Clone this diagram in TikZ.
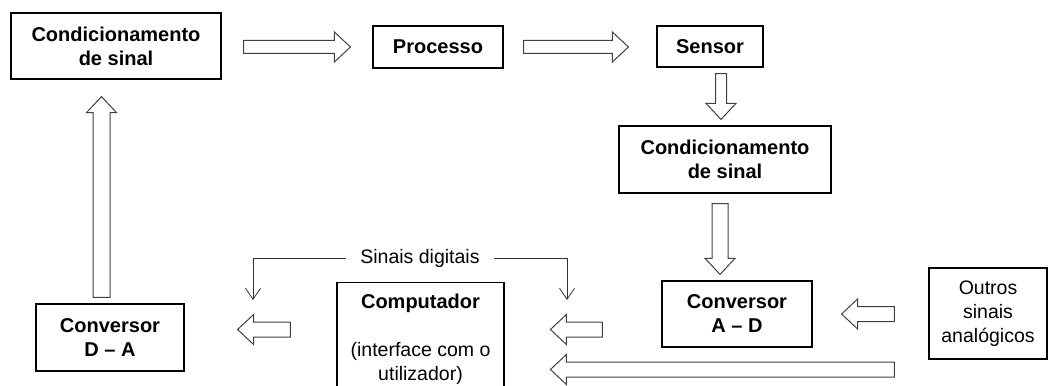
\documentclass[tikz,border=0pt]{standalone}
\usepackage{fontspec}
\setmainfont{Liberation Sans}
\usetikzlibrary{calc,arrows.meta}
\tikzset{
  box/.style={draw=black, line width=1.2pt, align=center, inner sep=0pt,
    font=\bfseries\fontsize{20}{24}\selectfont},
  plain/.style={font=\fontsize{19.5}{24}\selectfont},
  sig/.style={draw=black!80, line width=0.8pt, -{Straight Barb[length=11pt,width=15pt]}},
  fat/.style={draw=black!75, line width=1pt, line join=miter,
    to path={let \p1=(\tikztostart), \p2=(\tikztotarget),
      \n1={atan2(\y2-\y1,\x2-\x1)}, \n2={veclen(\x2-\x1,\y2-\y1)-16} in
      ($(\p1)+(\n1+90:#1)$) -- ($(\p1)+(\n1:{\n2*1pt})+(\n1+90:#1)$)
      -- ($(\p1)+(\n1:{\n2*1pt})+(\n1+90:15pt)$) -- (\p2)
      -- ($(\p1)+(\n1:{\n2*1pt})+(\n1-90:15pt)$)
      -- ($(\p1)+(\n1:{\n2*1pt})+(\n1-90:#1)$) -- ($(\p1)+(\n1-90:#1)$) -- cycle}},
  fat/.default=7.5pt,
}
\begin{document}
\begin{tikzpicture}[x=1pt,y=-1pt]
  \useasboundingbox (0,0) rectangle (1048,385);
  \clip (0,0) rectangle (1048,385);

  % Blocos
  \node[box, minimum width=210pt, minimum height=66pt] (cond1) at (116,46) {Condicionamento\\de sinal};
  \node[box, minimum width=130pt, minimum height=42pt] (proc) at (438,47) {Processo};
  \node[box, minimum width=106pt, minimum height=41pt] (sensor) at (710,46.5) {Sensor};
  \node[box, minimum width=212pt, minimum height=67pt] (cond2) at (725,159.5) {Condicionamento\\de sinal};
  \node[box, minimum width=150pt, minimum height=66pt] (ad) at (737,314) {Conversor\\A – D};
  \node[box, plain, minimum width=118pt, minimum height=91pt] (outros) at (988,313.5) {Outros\\sinais\\analógicos};
  \node[box, minimum width=148pt, minimum height=67pt] (da) at (110,337.5) {Conversor\\D – A};

  % Computador
  \node[box, minimum width=167pt, minimum height=140pt, anchor=north] (comp) at (420.5,282) {};
  \node[font=\bfseries\fontsize{20}{24}\selectfont, anchor=base] (comptitle) at ($(comp.north)+(0,26)$) {Computador};
  \node[plain, align=center] (compnote) at ($(comp.north)+(0,81)$) {(interface com o\\utilizador)};

  % Sinais digitais
  \node[plain, inner xsep=14pt] (sd) at (420,258) {Sinais digitais};
  \coordinate (dl) at (253,300);
  \coordinate (dr) at (567,300);
  \draw[sig] (sd.west) -| (dl);
  \draw[sig] (sd.east) -| (dr);

  % Setas
  \draw[fat=6.5pt] ($(cond1.east |- proc.west)+(22,0)$) to ($(proc.west)+(-22,0)$);
  \draw[fat=6.5pt] ($(proc.east)+(20,0)$) to ($(proc.east -| sensor.west)+(-28,0)$);
  \draw[fat=5.5pt] ($(sensor.south)+(11,6)$) to ($(cond2.north)+(-4,-6)$);
  \draw[fat=8pt] ($(cond2.south)+(-5,10)$) to ($(ad.north)+(-17,-6)$);
  \draw[fat] ($(outros.west |- ad.east)+(-34,0)$) to ($(ad.east)+(29,0)$);
  \draw[fat] ($(ad.west)+(-59,15.5)$) to ($(ad.west)+(-111,15.5)$);
  \draw[fat] ($(comp.north west)+(-46,47.5)$) to ($(da.east)+(53,-8)$);
  \draw[fat=8.5pt] ($(da.north)+(-8.5,-6)$) to ($(cond1.south)+(-14.5,17)$);
  \draw[fat] ($(outros.west)+(-34,56)$) to ($(ad.west)+(-111,55.5)$);
\end{tikzpicture}
\end{document}
